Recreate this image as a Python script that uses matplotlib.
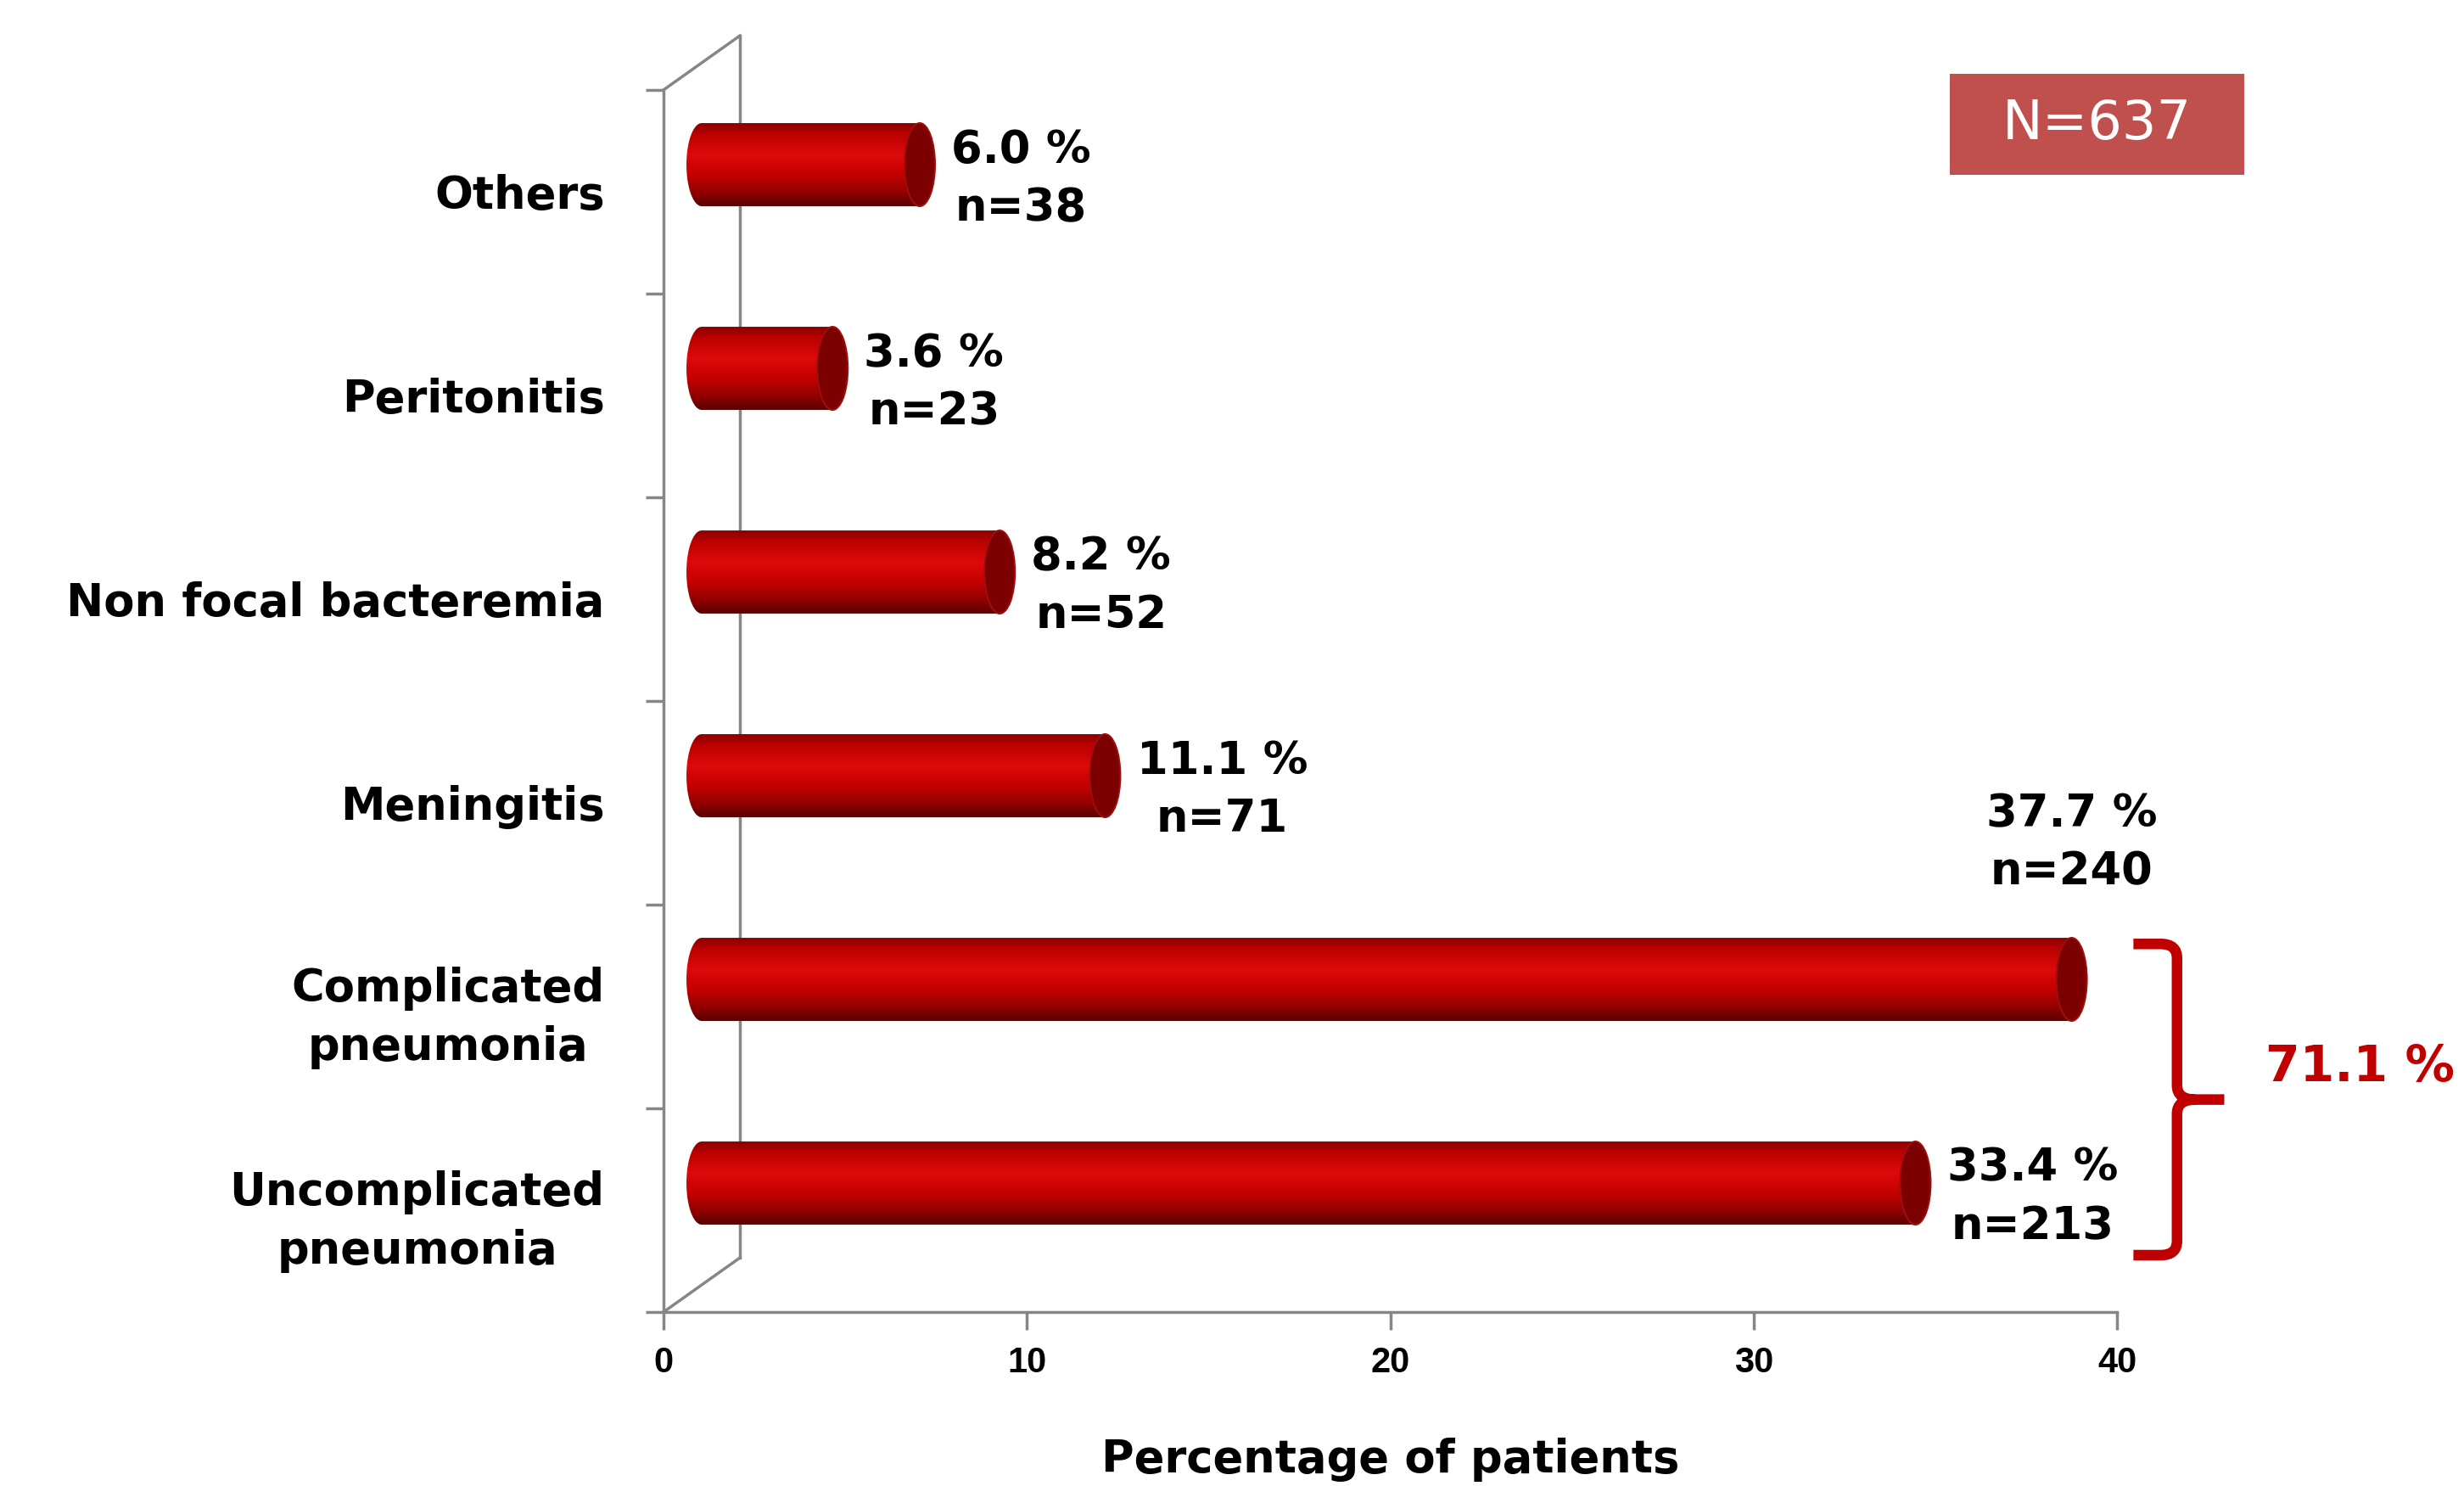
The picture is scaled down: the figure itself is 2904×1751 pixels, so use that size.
import numpy as np
import matplotlib
matplotlib.use("Agg")
import matplotlib.pyplot as plt
from matplotlib.colors import LinearSegmentedColormap
from matplotlib.patches import Polygon, Ellipse, Rectangle, PathPatch
from matplotlib.path import Path

# data (bottom to top)
categories = ["Uncomplicated\npneumonia", "Complicated\npneumonia", "Meningitis",
              "Non focal bacteremia", "Peritonitis", "Others"]
percent = [33.4, 37.7, 11.1, 8.2, 3.6, 6.0]
counts = [213, 240, 71, 52, 23, 38]
total_n = 637
pneumonia_total = 71.1

GRAY = "#868686"
RED = "#c00000"

plt.rcParams['font.family'] = ['DejaVu Sans']

fig = plt.figure(figsize=(29.04, 17.51), dpi=100)
ax = fig.add_axes([0.2693, 0.1171, 0.5899, 0.8224])

# pseudo 3D geometry (data units)
depth_x = 2.1      # back wall shift along x
depth_y = 0.266    # back wall shift along y
bar_x0 = depth_x / 2
bar_dy = depth_y / 2
rx = 0.42          # half width of the elliptic end caps
ry = 0.204         # half height of the cylinder

cyl_cmap = LinearSegmentedColormap.from_list(
    "cyl", [(0.0, "#8a0000"), (0.12, "#b80000"), (0.38, "#de0a0a"),
            (0.62, "#c40000"), (0.85, "#8e0000"), (1.0, "#560000")])
grad = np.linspace(0, 1, 256).reshape(-1, 1)


def draw_cylinder(ax, x0, length, yc):
    """ Draw a horizontal cylinder with a vertical gradient. """
    t = np.linspace(np.pi / 2, 3 * np.pi / 2, 60)
    left = np.column_stack([x0 + rx * np.cos(t), yc + ry * np.sin(t)])
    verts = np.vstack([left, [[x0 + length, yc - ry], [x0 + length, yc + ry],
                              [x0, yc + ry]]])
    clip = Polygon(verts, closed=True, facecolor='none', edgecolor='none')
    ax.add_patch(clip)
    im = ax.imshow(grad, extent=[x0 - rx, x0 + length, yc - ry, yc + ry],
                   aspect='auto', cmap=cyl_cmap, origin='upper', zorder=3,
                   interpolation='bilinear')
    im.set_clip_path(clip)
    cap = Ellipse((x0 + length, yc), 2 * rx, 2 * ry, facecolor='#7c0000',
                  edgecolor='#9a1010', linewidth=1.5, zorder=4)
    ax.add_patch(cap)


ypos = np.arange(len(categories))
for i, (p, c) in enumerate(zip(percent, counts)):
    yc = ypos[i] + bar_dy
    draw_cylinder(ax, bar_x0, p, yc)
    label = f"{p:.1f} %\nn={c}"
    if categories[i].startswith("Complicated"):
        ax.text(bar_x0 + p, yc + 0.67, label, ha='center', va='center',
                multialignment='center', fontsize=38, fontweight='bold',
                linespacing=1.4, zorder=5)
    else:
        ax.text(bar_x0 + p + rx + 0.45, yc - 0.07, label, ha='left',
                va='center', multialignment='center', fontsize=38,
                fontweight='bold', linespacing=1.4, zorder=5)

# axes frame
ax.set_xlim(0, 40)
ax.set_ylim(-0.5, len(categories) - 0.5)
for side in ['top', 'right']:
    ax.spines[side].set_visible(False)
for side in ['left', 'bottom']:
    ax.spines[side].set_color(GRAY)
    ax.spines[side].set_linewidth(2.5)

ytop = len(categories) - 0.5
# back wall and floor edge
ax.plot([depth_x, depth_x], [-0.5 + depth_y, ytop + depth_y], color=GRAY,
        lw=2.5, clip_on=False, zorder=1)
ax.plot([0, depth_x], [ytop, ytop + depth_y], color=GRAY, lw=2.5,
        clip_on=False, zorder=1)
ax.plot([0, depth_x], [-0.5, -0.5 + depth_y], color=GRAY, lw=2.5,
        clip_on=False, zorder=1)

ax.set_yticks(ypos)
ax.set_yticklabels(categories, fontsize=38, fontweight='bold',
                   multialignment='center', linespacing=1.4)
ax.set_yticks(np.arange(-0.5, len(categories)), minor=True)
ax.tick_params(axis='y', which='major', length=0, pad=50)
ax.tick_params(axis='y', which='minor', length=15, width=2.5, color=GRAY)

ax.set_xticks([0, 10, 20, 30, 40])
ax.tick_params(axis='x', which='major', length=15, width=2.5, color=GRAY,
               pad=14)
for lbl in ax.get_xticklabels():
    lbl.set_fontfamily('Liberation Sans')
    lbl.set_fontweight('bold')
    lbl.set_fontsize(30)
ax.set_xlabel("Percentage of patients", fontsize=38, fontweight='bold',
              labelpad=49)

# bracket grouping the two pneumonia bars
xl, xv, xt = 40.45, 41.65, 42.95
yt, yb = 1 + bar_dy + ry - 0.03, bar_dy - ry - 0.15
ym = (yt + yb) / 2
verts = [(xl, yt), (xv - 0.45, yt), (xv, yt), (xv, yt - 0.07),
         (xv, ym + 0.07), (xv, ym), (xv + 0.5, ym), (xt, ym),
         (xv + 0.5, ym), (xv, ym), (xv, ym - 0.07),
         (xv, yb + 0.07), (xv, yb), (xv - 0.45, yb), (xl, yb)]
codes = [Path.MOVETO, Path.LINETO, Path.CURVE3, Path.CURVE3,
         Path.LINETO, Path.CURVE3, Path.CURVE3, Path.LINETO,
         Path.MOVETO, Path.CURVE3, Path.CURVE3,
         Path.LINETO, Path.CURVE3, Path.CURVE3, Path.LINETO]
ax.add_patch(PathPatch(Path(verts, codes), facecolor='none', edgecolor=RED,
                       lw=9, clip_on=False, capstyle='butt'))
ax.text(44.08, ym + 0.16, f"{pneumonia_total:.1f} %", color=RED, fontsize=42,
        fontweight='bold', ha='left', va='center')

# N box
fig.patches.append(Rectangle((0.7913, 0.8824), 0.1195, 0.068,
                             transform=fig.transFigure, facecolor='#c0504d',
                             edgecolor='none'))
fig.text(0.7913 + 0.1195 / 2, 0.8824 + 0.034, f"N={total_n}", color='white',
         fontsize=46, ha='center', va='center')

fig.savefig("out.png", dpi=100)
